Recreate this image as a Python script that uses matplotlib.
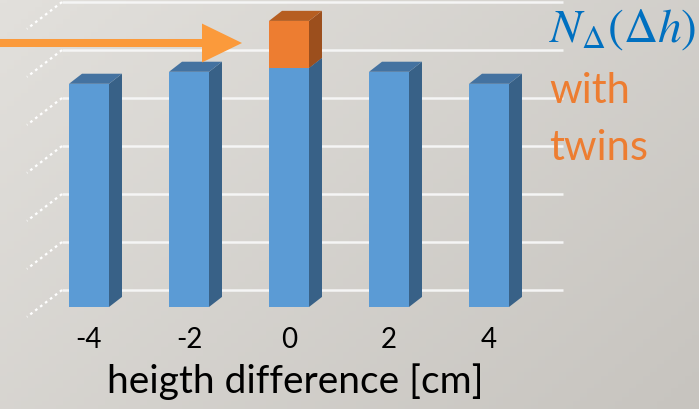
import numpy as np
import matplotlib
matplotlib.use("Agg")
import matplotlib.pyplot as plt
from matplotlib.patches import Polygon, FancyArrow

# data
dh = [-4, -2, 0, 2, 4]
tick_labels = ["-4", "-2", "0", "2", "4"]
counts = [4.65, 4.90, 4.98, 4.90, 4.65]
twins = [0.0, 0.0, 0.98, 0.0, 0.0]
grid_levels = [0, 1, 2, 3, 4, 5, 6]

blue_front, blue_side, blue_top = "#5b9bd5", "#386187", "#4472a0"
or_front, or_side, or_top = "#ed7d31", "#9c4f1d", "#b65e21"

plt.rcParams["font.family"] = ["Lato", "DejaVu Sans"]
plt.rcParams["mathtext.fontset"] = "stix"

fig = plt.figure(figsize=(6.99, 4.10), dpi=100)

# grey gradient background
bg = fig.add_axes([0, 0, 1, 1], zorder=-1)
yy, xx = np.mgrid[0:1:100j, 0:1:100j]
g = 0.6 * xx + 0.4 * yy
c0 = np.array([226, 224, 220]) / 255
c1 = np.array([199, 196, 191]) / 255
img = c0[None, None, :] * (1 - g[..., None]) + c1[None, None, :] * g[..., None]
bg.imshow(img, aspect="auto", extent=[0, 1, 0, 1])
bg.axis("off")

ax = fig.add_axes([0, 102 / 410, 1, 308 / 410])
ax.patch.set_alpha(0)
ax.set_xlim(-5.78, 8.2)
ax.set_ylim(0, 308 / 48)

w = 0.8      # bar width
ddx = 0.26   # depth offset in x
ddy = 0.21   # depth offset in y
back = 0.354 # back wall offset

# back wall gridlines and dotted side wall lines
for k in grid_levels:
    yv = back + k
    ax.plot([-4.54, 5.48], [yv, yv], color="#f5f5f5", lw=1.8, zorder=1, solid_capstyle="butt")
    ax.plot([-4.54, -5.24], [yv, yv - 0.56], color="white", lw=1.6, ls=(0, (1.2, 1.6)),
            zorder=1, clip_on=False)

def box(x, y0, y1, front, side, top, z):
    ax.bar(x, y1 - y0, bottom=y0, width=w, color=front, zorder=z, linewidth=0)
    r = x + w / 2
    l = x - w / 2
    ax.add_patch(Polygon([[r, y0], [r + ddx, y0 + ddy], [r + ddx, y1 + ddy], [r, y1]],
                         closed=True, color=side, lw=0, zorder=z))
    ax.add_patch(Polygon([[l, y1], [r, y1], [r + ddx, y1 + ddy], [l + ddx, y1 + ddy]],
                         closed=True, color=top, lw=0, zorder=z))

for i, x in enumerate(dh):
    box(x, 0, counts[i], blue_front, blue_side, blue_top, 3 + i)
    if twins[i] > 0:
        box(x, counts[i], counts[i] + twins[i], or_front, or_side, or_top, 3 + i)

# arrow pointing at the twin bar
ax.add_patch(FancyArrow(-6.0, 5.5, 5.06, 0, width=0.167, head_width=0.81,
                        head_length=0.8, length_includes_head=True,
                        color="#fb9a3b", lw=0, zorder=10, clip_on=False))

ax.set_xticks(dh, tick_labels)
ax.tick_params(axis="x", length=0, pad=14, labelsize=20, colors="black")
ax.set_yticks([])
for s in ax.spines.values():
    s.set_visible(False)
ax.set_xlabel("heigth difference [cm]", fontsize=28)
ax.xaxis.set_label_coords(295 / 699, -0.18)

fig.text(549 / 699, 1 - 42 / 410, r"$N_{\Delta}(\Delta h)$", color="#0070c0",
         fontsize=34, va="baseline", ha="left")
fig.text(549 / 699, 1 - 103 / 410, "with", color=or_front, fontsize=30, va="baseline")
fig.text(549 / 699, 1 - 160 / 410, "twins", color=or_front, fontsize=30, va="baseline")

fig.savefig("out.png", dpi=100)
